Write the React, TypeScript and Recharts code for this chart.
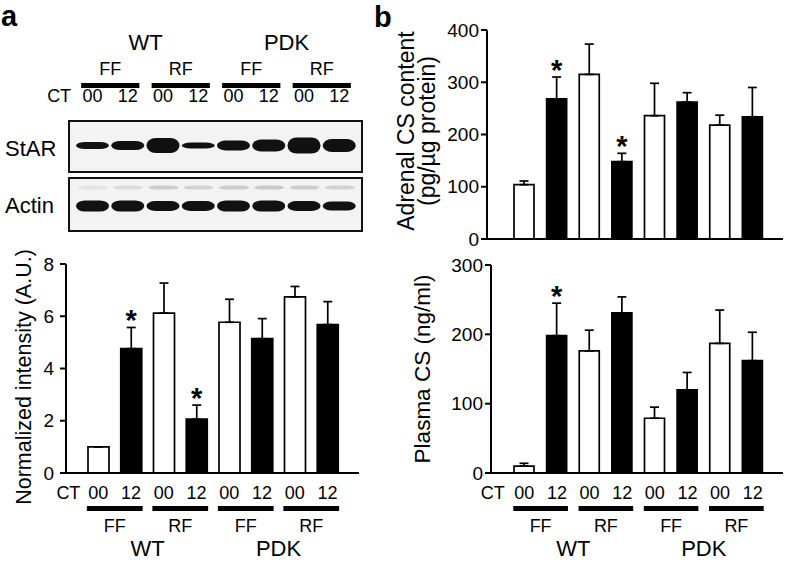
import { Bar, BarChart, Cell, ErrorBar, LabelList, XAxis, YAxis } from 'recharts'

// lanes, left to right: WT FF, WT RF, PDK FF, PDK RF, each CT00 / CT12
const laneKeys = ['WT-FF-00', 'WT-FF-12', 'WT-RF-00', 'WT-RF-12', 'PDK-FF-00', 'PDK-FF-12', 'PDK-RF-00', 'PDK-RF-12']
const ctLabels = ['00', '12', '00', '12', '00', '12', '00', '12']
const dietLabels = ['FF', 'RF', 'FF', 'RF']
const genotypeLabels = ['WT', 'PDK']

// western blot band thickness per lane
const starBand = [7, 9, 15, 6, 10, 12, 16, 13]
const actinBand = [11, 11, 10, 10, 11, 11, 10, 9]
const actinFaint = [0.06, 0.1, 0.16, 0.14, 0.16, 0.18, 0.16, 0.14]

// a: StAR normalized intensity (A.U.)
const starNorm = [1.0, 4.76, 6.12, 2.06, 5.77, 5.14, 6.74, 5.68]
const starErr = [0, 0.81, 1.15, 0.54, 0.88, 0.77, 0.4, 0.88]
const starSig = [false, true, false, true, false, false, false, false]

// b top: adrenal CS content (pg/ug protein)
const adrenal = [104, 268, 315, 148, 236, 262, 218, 234]
const adrenalErr = [7, 42, 58, 16, 62, 18, 19, 56]
const adrenalSig = [false, true, false, true, false, false, false, false]

// b bottom: plasma CS (ng/ml)
const plasma = [10, 198, 176, 231, 79, 120, 187, 162]
const plasmaErr = [4, 47, 30, 23, 16, 25, 48, 41]
const plasmaSig = [false, true, false, false, false, false, false, false]

const FONT = '"Liberation Sans", Arial, sans-serif'

const blotRows = laneKeys.map((key, i) => ({
  key,
  star: [-starBand[i] / 2, starBand[i] / 2],
  actin: [-actinBand[i] / 2, actinBand[i] / 2],
  faint: [16.5, 20.5],
}))

const makeRows = (vals: number[], errs: number[], sig: boolean[]) =>
  laneKeys.map((key, i) => ({ key, value: vals[i], err: [0, errs[i]], star: sig[i] ? '*' : '' }))

const starRows = makeRows(starNorm, starErr, starSig)
const adrenalRows = makeRows(adrenal, adrenalErr, adrenalSig)
const plasmaRows = makeRows(plasma, plasmaErr, plasmaSig)

type TickCfg = { band: number; ext: number; ctDx: number; num: number; line: number; diet: number; geno: number }

const laneTick = (cfg: TickCfg) => (props: any) => {
  const { x, y, index } = props
  return (
    <g>
      <text x={x} y={y + cfg.num} textAnchor="middle" fontSize={18} fill="#000">
        {ctLabels[index]}
      </text>
      {index === 0 && (
        <text x={x + cfg.ctDx} y={y + cfg.num} textAnchor="middle" fontSize={18} fill="#000">
          CT
        </text>
      )}
      {index % 2 === 0 && (
        <>
          <rect x={x - cfg.ext} y={y + cfg.line} width={cfg.band + cfg.ext * 2} height={5} fill="#000" />
          <text x={x + cfg.band / 2} y={y + cfg.diet} textAnchor="middle" fontSize={18} fill="#000">
            {dietLabels[index / 2]}
          </text>
        </>
      )}
      {index % 4 === 0 && (
        <text x={x + cfg.band * 1.5} y={y + cfg.geno} textAnchor="middle" fontSize={22} fill="#000">
          {genotypeLabels[index / 4]}
        </text>
      )}
    </g>
  )
}

const starMark = (vals: number[], errs: number[]) => (props: any) => {
  const { index, value } = props
  if (!value || index == null) return null
  const vb = props.viewBox ?? props
  const perUnit = vb.height / vals[index]
  const capY = vb.y - errs[index] * perUnit
  return (
    <text x={vb.x + vb.width / 2} y={capY + 3} textAnchor="middle" fontSize={29} fontWeight={700} fill="#000">
      *
    </text>
  )
}

const yTitle = (lines: string[], x: number, cy: number, gap: number, size: number) => () => (
  <g>
    {lines.map((l, i) => (
      <text
        key={l}
        x={x + i * gap}
        y={cy}
        transform={`rotate(-90 ${x + i * gap} ${cy})`}
        textAnchor="middle"
        fontSize={size}
        fill="#000"
      >
        {l}
      </text>
    ))}
  </g>
)

const BandShape = (props: any) => {
  const { x, y, width, height, opacity } = props
  if (!height) return null
  return (
    <rect
      x={x}
      y={y}
      width={width}
      height={height}
      rx={Math.min(width / 2, 9)}
      ry={height / 2}
      fill="#111"
      opacity={opacity ?? 1}
      style={{ filter: 'blur(0.7px)' }}
    />
  )
}

const axisStroke = { stroke: '#000', strokeWidth: 2 }

function DataPanel({
  rows,
  vals,
  errs,
  width,
  height,
  margin,
  yWidth,
  domain,
  ticks,
  tickMargin,
  barSize,
  padding,
  xHeight,
  tick,
  title,
}: any) {
  return (
    <BarChart width={width} height={height} data={rows} margin={margin}>
      <XAxis
        dataKey="key"
        interval={0}
        height={xHeight}
        padding={padding}
        axisLine={axisStroke}
        tickLine={false}
        tickSize={0}
        tickMargin={0}
        tick={tick ?? false}
      />
      <YAxis
        domain={domain}
        ticks={ticks}
        width={yWidth}
        tickSize={6}
        tickMargin={tickMargin}
        tick={{ fill: '#000', fontSize: 19 }}
        axisLine={axisStroke}
        tickLine={axisStroke}
        label={title}
      />
      <Bar dataKey="value" barSize={barSize} stroke="#000" strokeWidth={1.7} isAnimationActive={false}>
        {rows.map((r: any, i: number) => (
          <Cell key={r.key} fill={i % 2 === 0 ? '#fff' : '#000'} />
        ))}
        <ErrorBar dataKey="err" width={4.5} stroke="#000" strokeWidth={1.7} direction="y" />
        <LabelList dataKey="star" content={starMark(vals, errs)} />
      </Bar>
    </BarChart>
  )
}

export default function App() {
  const blotBand = (291 - 9) / 8
  return (
    <div
      style={{
        position: 'absolute',
        left: 0,
        top: 0,
        width: 787,
        height: 561,
        background: '#fff',
        overflow: 'hidden',
        fontFamily: FONT,
      }}
    >
      <svg width={787} height={561} style={{ position: 'absolute', left: 0, top: 0 }}>
        <text x={1} y={26} fontSize={29} fontWeight={700} fill="#000">
          a
        </text>
        <text x={374} y={27} fontSize={29} fontWeight={700} fill="#000">
          b
        </text>
        <text x={5} y={156} fontSize={22} fill="#000">
          StAR
        </text>
        <text x={5} y={213} fontSize={22} fill="#000">
          Actin
        </text>
      </svg>

      {/* blot frames */}
      <div style={{ position: 'absolute', left: 68, top: 120, width: 295, height: 53, border: '2px solid #111', boxSizing: 'border-box', background: '#f3f3f3' }} />
      <div style={{ position: 'absolute', left: 68, top: 177, width: 295, height: 55, border: '2px solid #111', boxSizing: 'border-box', background: '#f3f3f3' }} />

      <div style={{ position: 'absolute', left: 0, top: 0 }}>
        <BarChart width={370} height={175} data={blotRows} margin={{ top: 102, right: 9, bottom: 4, left: 70 }}>
          <XAxis
            dataKey="key"
            orientation="top"
            interval={0}
            height={20}
            padding={{ left: 5, right: 4 }}
            axisLine={false}
            tickLine={false}
            tickSize={0}
            tickMargin={0}
            tick={laneTick({ band: blotBand, ext: 11.5, ctDx: -33.5, num: -20, line: -39, diet: -47, geno: -72 })}
          />
          <YAxis hide domain={[-25.5, 23.5]} />
          <Bar dataKey="star" barSize={33} shape={BandShape} isAnimationActive={false} />
        </BarChart>
      </div>

      <div style={{ position: 'absolute', left: 0, top: 177 }}>
        <BarChart width={370} height={55} data={blotRows} margin={{ top: 2, right: 9, bottom: 2, left: 70 }}>
          <XAxis dataKey="key" hide padding={{ left: 5, right: 4 }} />
          <XAxis xAxisId="faint" dataKey="key" hide padding={{ left: 5, right: 4 }} />
          <YAxis hide domain={[-24, 27]} />
          <Bar dataKey="actin" barSize={33} shape={BandShape} isAnimationActive={false} />
          <Bar xAxisId="faint" dataKey="faint" barSize={30} isAnimationActive={false} shape={BandShape}>
            {actinFaint.map((o, i) => (
              <Cell key={laneKeys[i]} opacity={o} />
            ))}
          </Bar>
        </BarChart>
      </div>

      <div style={{ position: 'absolute', left: 0, top: 236 }}>
        <DataPanel
          rows={starRows}
          vals={starNorm}
          errs={starErr}
          width={370}
          height={325}
          margin={{ top: 28, right: 11, bottom: 0, left: 0 }}
          yWidth={66}
          domain={[0, 8]}
          ticks={[0, 2, 4, 6, 8]}
          tickMargin={6}
          barSize={21}
          padding={{ left: 16, right: 15 }}
          xHeight={88}
          tick={laneTick({ band: (293 - 31) / 8, ext: 11.5, ctDx: -30, num: 26, line: 33, diet: 59, geno: 83 })}
          title={yTitle(['Normalized intensity (A.U.)'], 31, 141, 0, 21.5)}
        />
      </div>

      <div style={{ position: 'absolute', left: 380, top: 0 }}>
        <DataPanel
          rows={adrenalRows}
          vals={adrenal}
          errs={adrenalErr}
          width={407}
          height={250}
          margin={{ top: 30, right: 4, bottom: 10, left: 0 }}
          yWidth={107}
          domain={[0, 400]}
          ticks={[0, 100, 200, 300, 400]}
          tickMargin={2}
          barSize={20}
          padding={{ left: 21, right: 14 }}
          xHeight={1}
          title={yTitle(['Adrenal CS content', '(pg/\u00b5g protein)'], 34, 131, 21, 23)}
        />
      </div>

      <div style={{ position: 'absolute', left: 380, top: 250 }}>
        <DataPanel
          rows={plasmaRows}
          vals={plasma}
          errs={plasmaErr}
          width={407}
          height={311}
          margin={{ top: 15, right: 4, bottom: 0, left: 0 }}
          yWidth={111}
          domain={[0, 300]}
          ticks={[0, 100, 200, 300]}
          tickMargin={2}
          barSize={20}
          padding={{ left: 17, right: 14 }}
          xHeight={88}
          tick={laneTick({ band: (292 - 31) / 8, ext: 11, ctDx: -31.5, num: 26, line: 33, diet: 59, geno: 83 })}
          title={yTitle(['Plasma CS (ng/ml)'], 50, 119, 0, 22.5)}
        />
      </div>
    </div>
  )
}
